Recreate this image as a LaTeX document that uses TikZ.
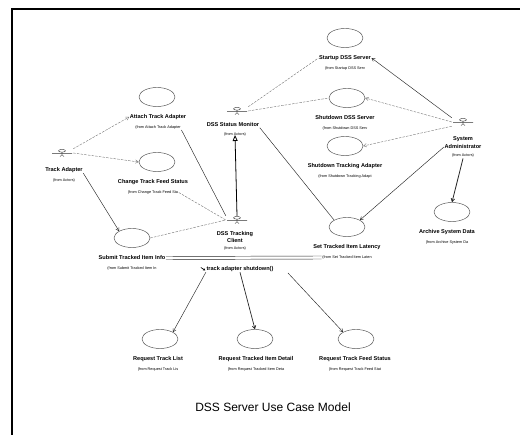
\documentclass[tikz,border=0pt]{standalone}
\usepackage{fontspec}
\setmainfont{Liberation Sans}
\usetikzlibrary{positioning,arrows.meta,shapes.geometric}
\newcommand{\ucfont}{\fontsize{5.6}{6}\selectfont\bfseries}
\newcommand{\fromfont}{\fontsize{3.8}{4}\selectfont}
\tikzset{
  usecase/.style={ellipse, draw=black!70, line width=0.45pt, minimum width=36pt,
    minimum height=19pt, inner sep=0pt},
  uclabel/.style={font=\ucfont, inner sep=0.5pt},
  ucfrom/.style={font=\fromfont, inner sep=0.5pt},
  actorfig/.style={minimum width=22pt, minimum height=8pt, inner sep=0pt,
    path picture={\path (path picture bounding box.center) coordinate (ac);
      \draw[black!80, line width=0.4pt] ([yshift=2.2pt]ac) ellipse (3.5pt and 1.4pt)
        ([yshift=0.8pt]ac) -- ([yshift=-1.6pt]ac)
        ([xshift=-10pt,yshift=-0.4pt]ac) -- ([xshift=10pt,yshift=-0.4pt]ac)
        ([xshift=-2pt,yshift=-3.6pt]ac) -- ([yshift=-1.6pt]ac) -- ([xshift=2pt,yshift=-3.6pt]ac);}},
  assoc/.style={black!85, line width=0.45pt},
  faint/.style={black!55, line width=0.4pt, dash pattern=on 2.5pt off 1.2pt},
  tip/.style={-{Straight Barb[length=3pt,width=3.5pt]}},
  general/.style={black, line width=0.8pt, -{Triangle[open,length=6pt,width=5pt]}},
}
\begin{document}
\begin{tikzpicture}[x=1pt,y=-1pt]
\useasboundingbox (0,0) rectangle (520,435);
% frame
\draw[line width=1.4pt] (12,435) -- (12,9) -- (520,9);
% use cases
\foreach \n/\x/\y/\lx/\lab/\sub in {
  attach/157/97/158/Attach Track Adapter/Attach Track Adapter,
  startup/345/38/345/Startup DSS Server/Startup DSS Serv,
  shutdss/347/98/345/Shutdown DSS Server/Shutdown DSS Serv,
  shutta/345/146/345/Shutdown Tracking Adapter/Shutdown Tracking Adapt,
  change/157/162/153/Change Track Feed Status/Change Track Feed Sta,
  submit/132/238/132/Submit Tracked Item Info/Submit Tracked Item In,
  settil/347/227/347/Set Tracked Item Latency/Set Tracked Item Laten,
  archive/452/212/447/Archive System Data/Archive System Da,
  reqlist/160/339/158/Request Track List/Request Track Lis,
  reqdet/255/339/256/Request Tracked Item Detail/Request Tracked Item Deta,
  reqfeed/356/339/355/Request Track Feed Status/Request Track Feed Stat} {
  \node[usecase] (\n) at (\x,\y) {};
  \node[uclabel] (\n-l) at (\lx,\y+20) {\lab};
  \node[ucfrom] (\n-f) at (\lx,\y+30.5) {(from \sub};
}
% actors
\node[actorfig] (trackad) at (62,153) {};
\node[uclabel] (trackad-l) at (64,170) {Track Adapter};
\node[ucfrom] (trackad-f) at (64,181) {(from Actors)};
\node[actorfig] (statmon) at (237,111) {};
\node[uclabel] (statmon-l) at (233,125) {DSS Status Monitor};
\node[ucfrom] (statmon-f) at (235,135) {(from Actors)};
\node[actorfig] (trackcl) at (237,220) {};
\node[uclabel] (trackcl-l1) at (235,234) {DSS Tracking};
\node[uclabel] (trackcl-l2) at (235,241) {Client};
\node[ucfrom] (trackcl-f) at (235,249) {(from Actors)};
\node[actorfig] (sysadm) at (463,122) {};
\node[uclabel] (sysadm-l1) at (463,139) {System};
\node[uclabel] (sysadm-l2) at (463,147) {Administrator};
\node[ucfrom] (sysadm-f) at (463,156) {(from Actors)};
% message
\node[uclabel] (msg) at (240,269) {track adapter shutdown()};
\draw[line width=0.6pt, -{Stealth[length=2.5pt,width=2.5pt]}]
  ([shift={(-5pt,1.5pt)}]msg.west) -- ([shift={(-0.5pt,-1.5pt)}]msg.west);
\coordinate (msgr) at (288,273);
% associations
\draw[faint,tip] (trackad.north east) -- (attach-l.west);
\draw[faint,tip] (trackad.east) -- (change.west);
\draw[assoc,tip] (trackad-l.south east) -- (submit.north west);
\draw[assoc] (attach-f.south east) -- (trackcl.north west);
\draw[faint] (change-f.east) -- (trackcl.west);
\draw[faint] (submit.east) -- (trackcl.west);
\draw[general] (trackcl.north) -- (statmon-f.center);
\draw[faint] (statmon.north east) -- (startup-l.west);
\draw[faint] (statmon.east) -- (shutdss.west);
\draw[assoc] (statmon-l.south east) -- (settil.north west);
\draw[assoc,tip] (sysadm.north west) -- (startup-l.east);
\draw[faint,tip] (sysadm.west) -- (shutdss.east);
\draw[faint,tip] (sysadm.south west) -- (shutta.east);
\draw[assoc,tip] (sysadm-l2.west) -- (settil.north east);
\draw[assoc,line width=0.8pt,tip] (sysadm-f.south) -- (archive.north);
\draw[assoc] ([yshift=1.5pt]submit-l.east) -- ([yshift=1.5pt]settil-f.west);
\draw[assoc] ([yshift=-1.5pt]submit-l.east) -- ([yshift=-1.5pt]settil-f.west);
\draw[assoc,tip] (msg.south west) -- (reqlist.north east);
\draw[assoc,line width=0.7pt,tip] (msg.south) -- (reqdet.north);
\draw[assoc,tip] (msgr) -- (reqfeed.north west);
% caption
\node[font=\fontsize{12}{14}\selectfont] (title) at (273,407) {DSS Server Use Case Model};
\end{tikzpicture}
\end{document}
